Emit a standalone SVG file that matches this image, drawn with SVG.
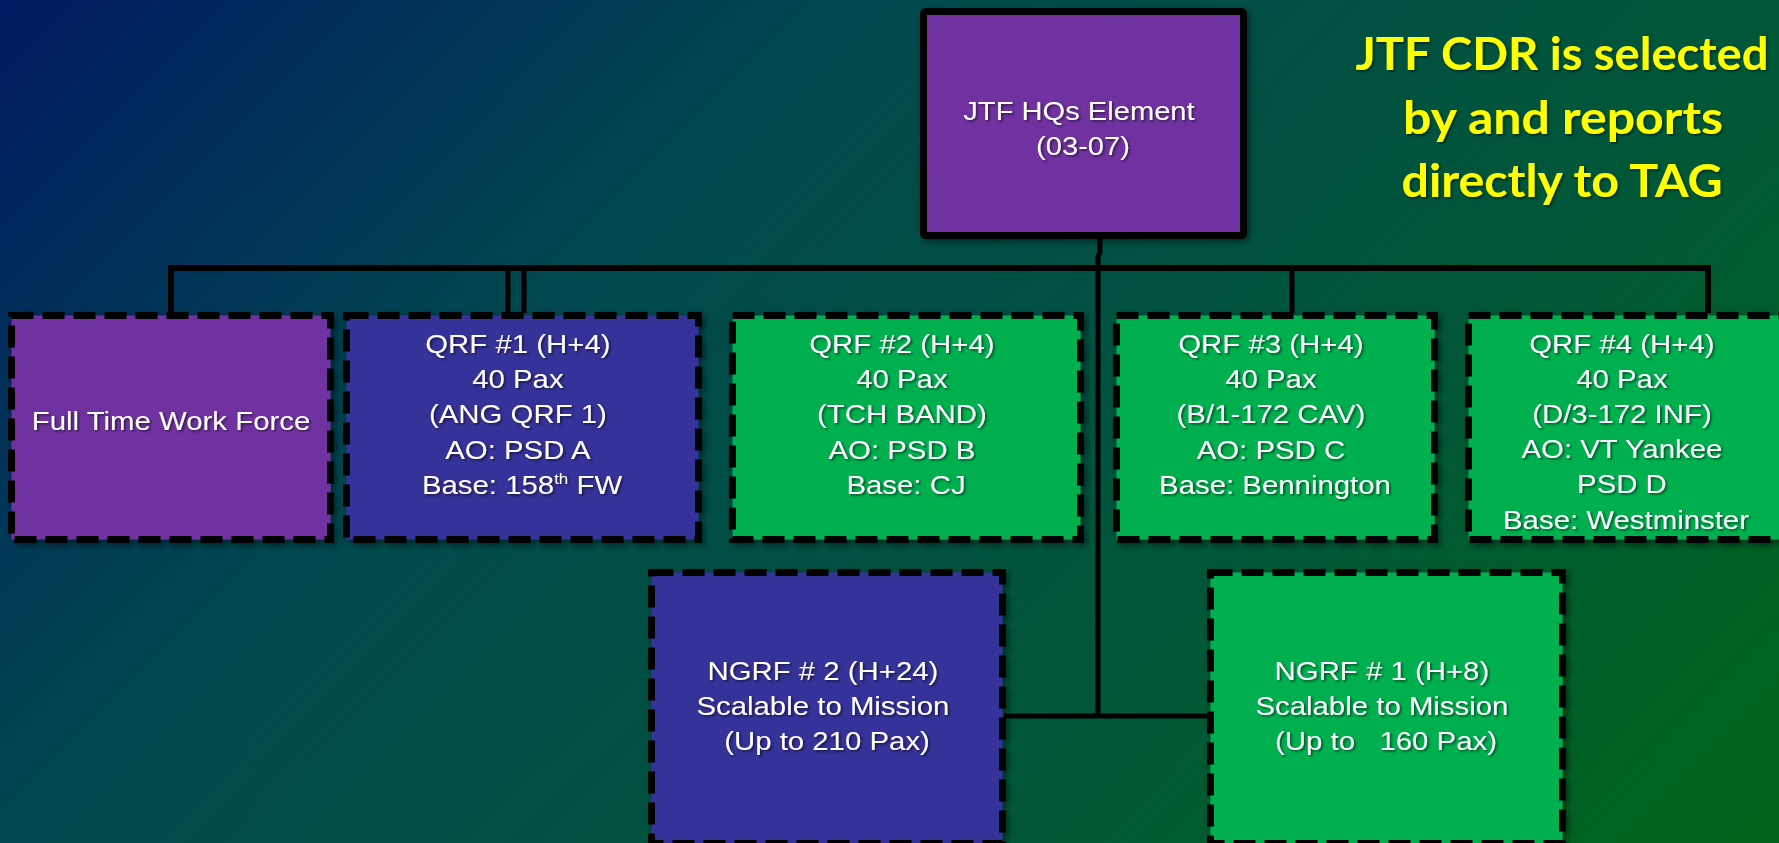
<svg xmlns="http://www.w3.org/2000/svg" width="1779" height="843" viewBox="0 0 1779 843">
  <defs>
    <linearGradient id="bg" gradientUnits="userSpaceOnUse" x1="0" y1="0" x2="1311" y2="1311">
      <stop offset="0" stop-color="#001B62"/>
      <stop offset="0.32" stop-color="#00484F"/>
      <stop offset="0.68" stop-color="#005738"/>
      <stop offset="1" stop-color="#00661A"/>
    </linearGradient>
    <filter id="boxShadow" x="-10%" y="-10%" width="125%" height="125%">
      <feDropShadow dx="3" dy="3" stdDeviation="3" flood-color="#000" flood-opacity="0.45"/>
    </filter>
    <filter id="txtShadow" x="-5%" y="-20%" width="115%" height="150%">
      <feDropShadow dx="1.5" dy="1.5" stdDeviation="0.8" flood-color="#000" flood-opacity="0.55"/>
    </filter>
  </defs>
  <style>
    .box { stroke: #000; stroke-width: 7; stroke-dasharray: 22 9; filter: url(#boxShadow); }
    .hq { fill: #7030A0; stroke: #000; stroke-width: 7; filter: url(#boxShadow); }
    .purple { fill: #7030A0; }
    .blue { fill: #343399; }
    .green { fill: #00B050; }
    .t { font-family: "Liberation Sans", Arial, sans-serif; font-size: 26px; fill: #FFFFFF; text-anchor: middle; filter: url(#txtShadow); }
    .sup { font-size: 15px; }
    .note { font-family: Lato, "Open Sans", sans-serif; font-weight: 700; font-size: 46px; fill: #FFFF00; text-anchor: middle; filter: url(#txtShadow); }
    .conn { fill: none; stroke: #000; stroke-width: 5; stroke-linejoin: miter; }
  </style>

  <rect x="0" y="0" width="1779" height="843" fill="url(#bg)"/>

  <g id="connectors">
    <path class="conn" d="M171 313 V268 H1708 V313" style="stroke-width:6"/>
    <path class="conn" d="M508 268 V313"/>
    <path class="conn" d="M524 268 V313"/>
    <path class="conn" d="M1292 268 V313"/>
    <path class="conn" d="M1100 238 V252 L1098 257 V716"/>
    <path class="conn" d="M1004 716 H1210"/>
  </g>

  <g id="hq">
    <rect class="hq" x="923.5" y="11.5" width="320" height="224" rx="2"/>
    <text class="t" transform="translate(1083 0) scale(1.12 1)">
      <tspan x="0" y="120">JTF HQs Element</tspan>
      <tspan x="0" y="155">(03-07)</tspan>
    </text>
  </g>

  <g id="note">
    <text class="note" x="1562" y="70" textLength="413" lengthAdjust="spacingAndGlyphs">JTF CDR is selected</text>
    <text class="note" x="1563" y="134" textLength="320" lengthAdjust="spacingAndGlyphs">by and reports</text>
    <text class="note" x="1562" y="197" textLength="321" lengthAdjust="spacingAndGlyphs">directly to TAG</text>
  </g>

  <g id="fulltime">
    <rect class="box purple" x="11.5" y="315.5" width="319" height="224"/>
    <text class="t" transform="translate(171 0) scale(1.13 1)">
      <tspan x="0" y="430">Full Time Work Force</tspan>
    </text>
  </g>

  <g id="qrf1">
    <rect class="box blue" x="346.5" y="315.5" width="352" height="224"/>
    <text class="t" transform="translate(522 0) scale(1.13 1)">
      <tspan x="0" y="353">QRF #1 (H+4)</tspan>
      <tspan x="0" y="388">40 Pax</tspan>
      <tspan x="0" y="423">(ANG QRF 1)</tspan>
      <tspan x="0" y="459">AO: PSD A</tspan>
      <tspan x="0" y="494">Base: 158<tspan class="sup" dy="-10">th</tspan><tspan dy="10"> FW</tspan></tspan>
    </text>
  </g>

  <g id="qrf2">
    <rect class="box green" x="732.5" y="315.5" width="348" height="224"/>
    <text class="t" transform="translate(906 0) scale(1.13 1)">
      <tspan x="0" y="353">QRF #2 (H+4)</tspan>
      <tspan x="0" y="388">40 Pax</tspan>
      <tspan x="0" y="423">(TCH BAND)</tspan>
      <tspan x="0" y="459">AO: PSD B</tspan>
      <tspan x="0" y="494">Base: CJ</tspan>
    </text>
  </g>

  <g id="qrf3">
    <rect class="box green" x="1116.5" y="315.5" width="318" height="224"/>
    <text class="t" transform="translate(1275 0) scale(1.13 1)">
      <tspan x="0" y="353">QRF #3 (H+4)</tspan>
      <tspan x="0" y="388">40 Pax</tspan>
      <tspan x="0" y="423">(B/1-172 CAV)</tspan>
      <tspan x="0" y="459">AO: PSD C</tspan>
      <tspan x="0" y="494">Base: Bennington</tspan>
    </text>
  </g>

  <g id="qrf4">
    <rect class="box green" x="1468.5" y="315.5" width="318" height="224"/>
    <text class="t" transform="translate(1626 0) scale(1.13 1)">
      <tspan x="0" y="353">QRF #4 (H+4)</tspan>
      <tspan x="0" y="388">40 Pax</tspan>
      <tspan x="0" y="423">(D/3-172 INF)</tspan>
      <tspan x="0" y="458">AO: VT Yankee</tspan>
      <tspan x="0" y="493">PSD D</tspan>
      <tspan x="0" y="529">Base: Westminster</tspan>
    </text>
  </g>

  <g id="ngrf2">
    <rect class="box blue" x="651.5" y="572.5" width="351" height="271"/>
    <text class="t" transform="translate(827 0) scale(1.13 1)">
      <tspan x="0" y="680">NGRF # 2 (H+24)</tspan>
      <tspan x="0" y="715">Scalable to Mission</tspan>
      <tspan x="0" y="750">(Up to 210 Pax)</tspan>
    </text>
  </g>

  <g id="ngrf1">
    <rect class="box green" x="1210.5" y="572.5" width="352" height="271"/>
    <text class="t" transform="translate(1386 0) scale(1.13 1)">
      <tspan x="0" y="680">NGRF # 1 (H+8)</tspan>
      <tspan x="0" y="715">Scalable to Mission</tspan>
      <tspan x="0" y="750" style="white-space:pre">(Up to   160 Pax)</tspan>
    </text>
  </g>
</svg>
